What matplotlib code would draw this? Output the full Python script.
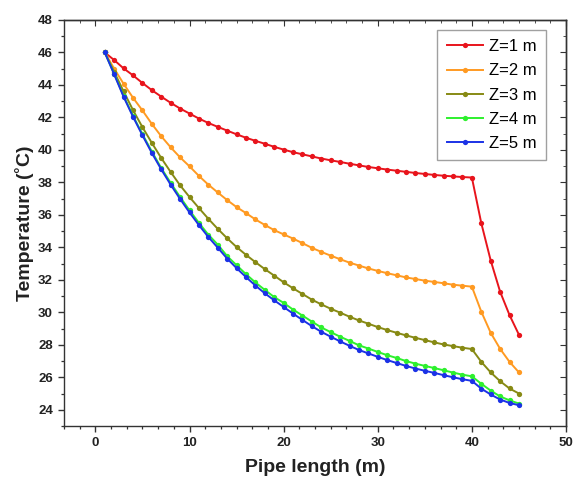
import matplotlib
matplotlib.use("Agg")
import matplotlib.pyplot as plt
from matplotlib.ticker import MultipleLocator

plt.rcParams['font.family'] = ['Liberation Sans', 'DejaVu Sans']

pipe_length = list(range(1, 46))

temp_z1 = [46.0, 45.53, 45.02, 44.59, 44.12, 43.68, 43.28, 42.9, 42.55, 42.24,
           41.93, 41.66, 41.42, 41.19, 40.96, 40.75, 40.56, 40.38, 40.19, 40.02,
           39.86, 39.73, 39.6, 39.47, 39.36, 39.26, 39.15, 39.05, 38.95, 38.87,
           38.79, 38.72, 38.65, 38.58, 38.52, 38.46, 38.41, 38.37, 38.33, 38.3,
           35.49, 33.19, 31.27, 29.83, 28.62]
temp_z2 = [46.0, 45.0, 44.07, 43.21, 42.43, 41.6, 40.84, 40.16, 39.54, 38.99,
           38.4, 37.86, 37.38, 36.91, 36.48, 36.11, 35.72, 35.38, 35.06, 34.8,
           34.54, 34.26, 33.97, 33.72, 33.49, 33.27, 33.06, 32.88, 32.7, 32.55,
           32.41, 32.28, 32.15, 32.05, 31.95, 31.87, 31.79, 31.7, 31.64, 31.58,
           30.04, 28.74, 27.75, 26.95, 26.3]
temp_z3 = [46.0, 44.8, 43.6, 42.45, 41.4, 40.43, 39.5, 38.64, 37.82, 37.1,
           36.42, 35.76, 35.14, 34.56, 34.02, 33.54, 33.09, 32.66, 32.26, 31.85,
           31.48, 31.13, 30.78, 30.49, 30.22, 29.98, 29.73, 29.5, 29.3, 29.09,
           28.91, 28.74, 28.58, 28.43, 28.29, 28.15, 28.02, 27.92, 27.82, 27.74,
           26.95, 26.3, 25.76, 25.31, 25.0]
temp_z4 = [46.0, 44.68, 43.32, 42.1, 40.97, 39.9, 38.88, 37.97, 37.1, 36.28,
           35.51, 34.78, 34.17, 33.46, 32.9, 32.35, 31.84, 31.38, 30.94, 30.58,
           30.17, 29.8, 29.43, 29.07, 28.78, 28.5, 28.24, 27.97, 27.77, 27.56,
           27.36, 27.19, 27.0, 26.84, 26.7, 26.57, 26.43, 26.29, 26.16, 26.06,
           25.6, 25.18, 24.82, 24.58, 24.38]
temp_z5 = [46.0, 44.65, 43.27, 42.04, 40.9, 39.81, 38.8, 37.86, 36.98, 36.15,
           35.37, 34.64, 33.98, 33.31, 32.72, 32.17, 31.65, 31.17, 30.74, 30.33,
           29.92, 29.53, 29.15, 28.8, 28.5, 28.21, 27.94, 27.68, 27.47, 27.26,
           27.06, 26.88, 26.7, 26.54, 26.4, 26.27, 26.13, 26.0, 25.88, 25.78,
           25.3, 24.94, 24.63, 24.42, 24.28]

series_labels = ["Z=1 m", "Z=2 m", "Z=3 m", "Z=4 m", "Z=5 m"]
series_values = [temp_z1, temp_z2, temp_z3, temp_z4, temp_z5]
series_colors = ["#e8141c", "#ff9a22", "#878a14", "#2ef02e", "#1b32e6"]

x_label = "Pipe length (m)"
y_label = "Temperature (\u02daC)"

fig = plt.figure(figsize=(5.74, 4.84), dpi=100)
ax = fig.add_axes([64/574, 58/484, 502/574, 406/484])

for vals, lab, col in zip(series_values, series_labels, series_colors):
    ax.plot(pipe_length, vals, '-o', color=col, lw=1.4, ms=3.8,
            markeredgewidth=0, label=lab)

ax.set_xlim(-10/3, 50)
ax.set_ylim(23, 48)
ax.xaxis.set_major_locator(MultipleLocator(10))
ax.xaxis.set_minor_locator(MultipleLocator(10/6))
ax.yaxis.set_major_locator(MultipleLocator(2))
ax.yaxis.set_minor_locator(MultipleLocator(1))

ax.tick_params(which='major', direction='out', length=4.5, width=1, color='#333333')
ax.tick_params(which='minor', direction='out', length=2.5, width=0.9, color='#333333')
for lbl in ax.get_xticklabels() + ax.get_yticklabels():
    lbl.set_fontweight('bold')
    lbl.set_fontsize(9.5)
    lbl.set_color('#222222')

secx = ax.secondary_xaxis('top')
secx.xaxis.set_major_locator(MultipleLocator(10))
secx.xaxis.set_minor_locator(MultipleLocator(10/6))
secx.tick_params(which='major', direction='in', length=4.5, labeltop=False, color='#333333')
secx.tick_params(which='minor', direction='in', length=2.5, color='#333333')
secy = ax.secondary_yaxis('right')
secy.yaxis.set_major_locator(MultipleLocator(2))
secy.yaxis.set_minor_locator(MultipleLocator(1))
secy.tick_params(which='major', direction='in', length=4.5, labelright=False, color='#333333')
secy.tick_params(which='minor', direction='in', length=2.5, color='#333333')

for sp in list(ax.spines.values()) + [secx.spines['top'], secy.spines['right']]:
    sp.set_color('#333333')
    sp.set_linewidth(1.0)

ax.set_xlabel(x_label, fontsize=14, fontweight='bold', labelpad=7, color='#222222')
ax.set_ylabel(y_label, fontsize=14, fontweight='bold', labelpad=3, color='#222222')

leg = ax.legend(loc='upper right', bbox_to_anchor=(0.960, 0.975), borderaxespad=0,
                numpoints=1, fontsize=12, frameon=True, fancybox=False,
                handlelength=2.2, handletextpad=0.35, borderpad=0.55,
                labelspacing=0.55)
leg.get_frame().set_edgecolor('#888888')
leg.get_frame().set_linewidth(1.0)

fig.savefig("out.png", dpi=100)
